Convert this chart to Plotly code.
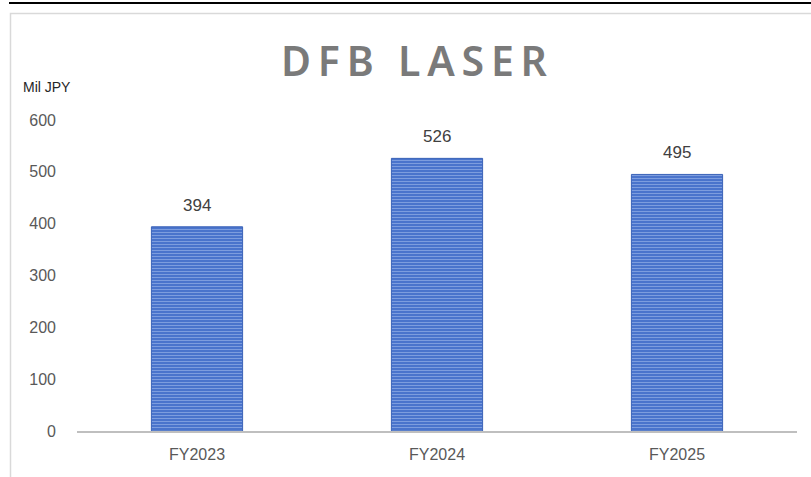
import plotly.graph_objects as go

categories = ["FY2023", "FY2024", "FY2025"]
values = [394, 526, 495]
y_ticks = [0, 100, 200, 300, 400, 500, 600]
title_text = "DFB LASER"
unit_text = "Mil JPY"

W, H = 811, 477
L, R, T, B = 77, 14, 120, 46
pw, ph = W - L - R, H - T - B

def px_x(x):
    return (x - L) / pw

def px_y(y):
    return (H - B - y) / ph

spaced_title = "\u2009".join(title_text)

fig = go.Figure()
fig.add_trace(go.Bar(
    x=categories, y=values,
    marker=dict(
        color="#4a74cc",
        line=dict(color="#3b63b8", width=1),
        pattern=dict(shape="-", size=3, solidity=0.35, fgcolor="#b0c6f0", bgcolor="#4a74cc"),
    ),
    hoverinfo="x+y",
))

value_labels = [
    dict(x=c, y=v, text=str(v), xref="x", yref="y", showarrow=False,
         yanchor="bottom", yshift=10,
         font=dict(family="Liberation Sans, Arial", size=17, color="#404040"))
    for c, v in zip(categories, values)
]

fig.update_layout(
    width=W, height=H,
    margin=dict(l=L, r=R, t=T, b=B),
    paper_bgcolor="white", plot_bgcolor="white",
    bargap=0.62,
    showlegend=False,
    xaxis=dict(showgrid=False, showline=True, linecolor="#bfbfbf", linewidth=2,
               ticks="", tickfont=dict(family="Liberation Sans, Arial", size=16, color="#595959"),
               ticklabelstandoff=8),
    yaxis=dict(range=[0, 600], tickvals=y_ticks, showgrid=False, zeroline=False,
               showline=False, ticks="",
               tickfont=dict(family="Liberation Sans, Arial", size=16, color="#595959"),
               ticklabelstandoff=20),
    shapes=[
        dict(type="line", xref="paper", yref="paper", x0=px_x(9), x1=px_x(811),
             y0=px_y(3), y1=px_y(3), line=dict(color="black", width=2)),
        dict(type="rect", xref="paper", yref="paper", x0=px_x(10.5), x1=px_x(820),
             y0=px_y(13.5), y1=px_y(490), line=dict(color="#d9d9d9", width=1.5),
             fillcolor="rgba(0,0,0,0)", layer="below"),
    ],
    annotations=value_labels + [
        dict(text=spaced_title, xref="paper", yref="paper", x=px_x(414), y=px_y(60),
             xanchor="center", yanchor="middle", showarrow=False,
             font=dict(family="Noto Sans", size=41, color="#7a7a7a", weight=600)),
        dict(text=unit_text, xref="paper", yref="paper", x=px_x(21), y=px_y(87),
             xanchor="left", yanchor="middle", showarrow=False,
             font=dict(family="Liberation Sans, Arial", size=14, color="#262626")),
    ],
)

fig.write_html("out.html", config={"displayModeBar": False},
               post_script="document.body.style.margin='0';document.body.style.padding='0';")
